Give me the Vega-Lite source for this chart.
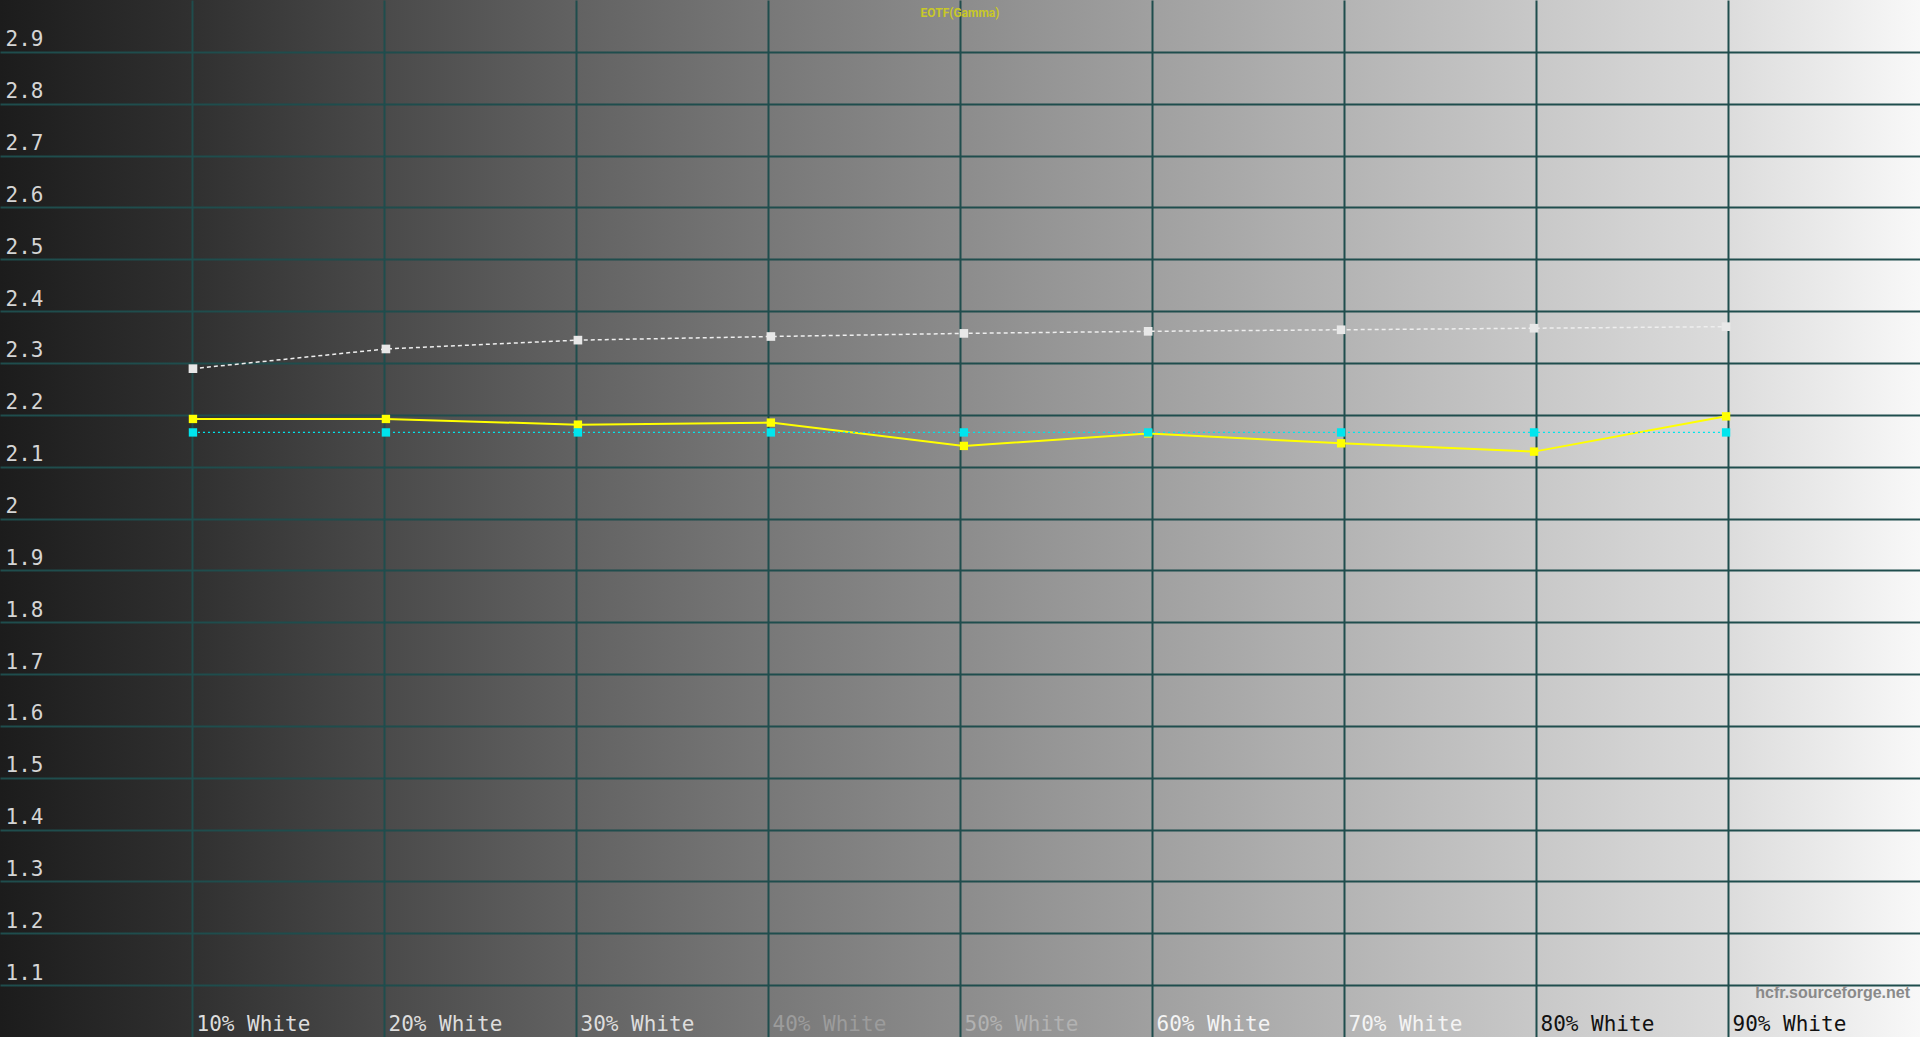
{
  "$schema": "https://vega.github.io/schema/vega-lite/v6.json",
  "width": 1920,
  "height": 1037,
  "autosize": "none",
  "padding": 0,
  "background": "#1c1c1c",
  "title": {
    "text": "EOTF(Gamma)",
    "anchor": "middle",
    "frame": "group",
    "baseline": "top",
    "offset": -20,
    "font": "Roboto",
    "fontSize": 12,
    "fontWeight": "bold",
    "color": "#c8c828"
  },
  "data": {
    "values": [
      {"level": 10.05, "series": "reference", "gamma": 2.289},
      {"level": 20.1, "series": "reference", "gamma": 2.327},
      {"level": 30.1, "series": "reference", "gamma": 2.344},
      {"level": 40.15, "series": "reference", "gamma": 2.351},
      {"level": 50.2, "series": "reference", "gamma": 2.357},
      {"level": 59.8, "series": "reference", "gamma": 2.361},
      {"level": 69.85, "series": "reference", "gamma": 2.364},
      {"level": 79.9, "series": "reference", "gamma": 2.367},
      {"level": 89.9, "series": "reference", "gamma": 2.37},
      {"level": 10.05, "series": "measured", "gamma": 2.192},
      {"level": 20.1, "series": "measured", "gamma": 2.192},
      {"level": 30.1, "series": "measured", "gamma": 2.181},
      {"level": 40.15, "series": "measured", "gamma": 2.185},
      {"level": 50.2, "series": "measured", "gamma": 2.14},
      {"level": 59.8, "series": "measured", "gamma": 2.164},
      {"level": 69.85, "series": "measured", "gamma": 2.145},
      {"level": 79.9, "series": "measured", "gamma": 2.129},
      {"level": 89.9, "series": "measured", "gamma": 2.197},
      {"level": 10.05, "series": "target", "gamma": 2.166},
      {"level": 20.1, "series": "target", "gamma": 2.166},
      {"level": 30.1, "series": "target", "gamma": 2.166},
      {"level": 40.15, "series": "target", "gamma": 2.166},
      {"level": 50.2, "series": "target", "gamma": 2.166},
      {"level": 59.8, "series": "target", "gamma": 2.166},
      {"level": 69.85, "series": "target", "gamma": 2.166},
      {"level": 79.9, "series": "target", "gamma": 2.166},
      {"level": 89.9, "series": "target", "gamma": 2.166}
    ]
  },
  "layer": [
    {
      "transform": [{"filter": "datum.series === 'measured'"}],
      "layer": [
        {"mark": {"type": "line", "color": "#ffff00", "strokeWidth": 2}},
        {"mark": {"type": "point", "shape": "square", "filled": true, "opacity": 1, "size": 70, "color": "#ffff00"}}
      ],
      "encoding": {
        "x": {
          "field": "level",
          "type": "quantitative",
          "scale": {"domain": [0, 100], "nice": false, "zero": false},
          "axis": {
            "orient": "bottom",
            "title": null,
            "values": [10, 20, 30, 40, 50, 60, 70, 80, 90],
            "labelExpr": "datum.value + '% White'",
            "grid": true,
            "gridColor": "#1f4d4d",
            "gridWidth": 2,
            "domain": false,
            "ticks": false,
            "labelAlign": "left",
            "labelBaseline": "bottom",
            "labelPadding": -3,
            "labelOffset": 4,
            "labelFlush": false,
            "labelOverlap": false,
            "labelFont": "DejaVu Sans Mono",
            "labelFontSize": 21,
            "labelColor": {
              "condition": [
                {"test": "datum.value >= 80", "value": "#111111"},
                {"test": "datum.value >= 60", "value": "#f4f4f4"},
                {"test": "datum.value >= 50", "value": "#b2b2b2"},
                {"test": "datum.value >= 40", "value": "#9c9c9c"}
              ],
              "value": "#dddddd"
            }
          }
        },
        "y": {
          "field": "gamma",
          "type": "quantitative",
          "scale": {"domain": [1, 3], "nice": false, "zero": false},
          "axis": {
            "orient": "left",
            "title": null,
            "values": [1.1, 1.2, 1.3, 1.4, 1.5, 1.6, 1.7, 1.8, 1.9, 2, 2.1, 2.2, 2.3, 2.4, 2.5, 2.6, 2.7, 2.8, 2.9],
            "format": ".1~f",
            "grid": true,
            "gridColor": "#1f4d4d",
            "gridWidth": 2,
            "domain": false,
            "ticks": false,
            "labelAlign": "left",
            "labelBaseline": "alphabetic",
            "labelPadding": -5,
            "labelOffset": -6,
            "labelFlush": false,
            "labelOverlap": false,
            "labelFont": "DejaVu Sans Mono",
            "labelFontSize": 21,
            "labelColor": "#d5d5d5"
          }
        }
      }
    },
    {
      "transform": [{"filter": "datum.series === 'target'"}],
      "layer": [
        {"mark": {"type": "line", "color": "#00e5ee", "strokeWidth": 1.2, "strokeDash": [2, 3]}},
        {"mark": {"type": "point", "shape": "square", "filled": true, "opacity": 1, "size": 70, "color": "#00e5ee"}}
      ],
      "encoding": {
        "x": {"field": "level", "type": "quantitative"},
        "y": {"field": "gamma", "type": "quantitative"}
      }
    },
    {
      "transform": [{"filter": "datum.series === 'reference'"}],
      "layer": [
        {"mark": {"type": "line", "color": "#eeeeee", "strokeWidth": 1.5, "strokeDash": [4, 3]}},
        {"mark": {"type": "point", "shape": "square", "filled": true, "opacity": 1, "size": 75, "color": "#e8e8e8"}}
      ],
      "encoding": {
        "x": {"field": "level", "type": "quantitative"},
        "y": {"field": "gamma", "type": "quantitative"}
      }
    },
    {
      "data": {"values": [{"site": "hcfr.sourceforge.net"}]},
      "mark": {
        "type": "text",
        "align": "right",
        "baseline": "top",
        "dx": -10,
        "dy": 0,
        "font": "Liberation Sans",
        "fontSize": 16,
        "fontWeight": "bold",
        "color": "#8a8a8a"
      },
      "encoding": {
        "x": {"datum": 100},
        "y": {"datum": 1.1},
        "text": {"field": "site"}
      }
    }
  ],
  "config": {
    "view": {
      "stroke": null,
      "fill": {
        "gradient": "linear",
        "x1": 0, "x2": 1, "y1": 0, "y2": 0,
        "stops": [
          {"offset": 0, "color": "#1c1c1c"},
          {"offset": 0.1, "color": "#303030"},
          {"offset": 0.2, "color": "#4a4a4a"},
          {"offset": 0.3, "color": "#626262"},
          {"offset": 0.4, "color": "#787878"},
          {"offset": 0.5, "color": "#8c8c8c"},
          {"offset": 0.6, "color": "#a0a0a0"},
          {"offset": 0.7, "color": "#b4b4b4"},
          {"offset": 0.8, "color": "#c8c8c8"},
          {"offset": 0.9, "color": "#dcdcdc"},
          {"offset": 1, "color": "#f8f8f8"}
        ]
      }
    }
  }
}
